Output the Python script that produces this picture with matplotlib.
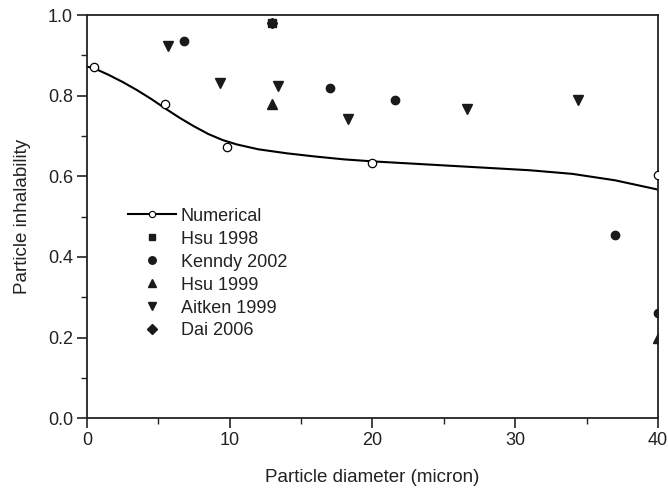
import matplotlib
matplotlib.use('Agg')
import matplotlib.pyplot as plt
from matplotlib.ticker import MultipleLocator, FormatStrFormatter

plt.rcParams['font.family'] = ['Liberation Sans', 'DejaVu Sans']

# Кривая численного расчета
curve_x = [0, 0.5, 1.5, 2.5, 3.5, 4.5, 5.5, 6.5, 7.5, 8.5, 9.5, 10.5, 12,
           14, 16, 18, 20, 22, 25, 28, 31, 34, 37, 40]
curve_y = [0.872, 0.868, 0.852, 0.834, 0.814, 0.792, 0.768, 0.745, 0.724,
           0.705, 0.690, 0.679, 0.667, 0.657, 0.649, 0.642, 0.637, 0.633,
           0.627, 0.621, 0.615, 0.606, 0.590, 0.567]

# Точки численного расчета
num_x = [0.5, 5.5, 9.8, 20.0, 40.0]
num_y = [0.87, 0.78, 0.672, 0.634, 0.603]

# Экспериментальные данные
hsu98_x = [13.0]
hsu98_y = [0.98]
kenndy_x = [6.8, 13.0, 17.0, 21.6, 37.0, 40.0]
kenndy_y = [0.936, 0.98, 0.818, 0.789, 0.455, 0.26]
hsu99_x = [13.0, 40.0]
hsu99_y = [0.78, 0.2]
aitken_x = [5.7, 9.3, 13.4, 18.3, 26.6, 34.4]
aitken_y = [0.922, 0.832, 0.823, 0.742, 0.767, 0.79]
dai_x = [13.0]
dai_y = [0.98]

fig = plt.figure(figsize=(6.68, 4.92), dpi=100)
ax = fig.add_axes([0.13, 0.15, 0.855, 0.8195])

ax.plot(curve_x, curve_y, color='black', lw=1.5, zorder=2)
ax.plot(num_x, num_y, 'o', mfc='white', mec='black', ms=6, mew=0.9, zorder=3)
# для легенды - маркер поменьше
ax.plot([], [], '-o', color='black', mfc='white', mec='black', ms=5, mew=0.8,
        lw=1.5, label='Numerical')

ax.plot(hsu98_x, hsu98_y, 's', color='#1a1a1a', ms=5.5, ls='none', label='Hsu 1998')
ax.plot(kenndy_x, kenndy_y, 'o', color='#1a1a1a', ms=6, ls='none', label='Kenndy 2002')
ax.plot(hsu99_x, hsu99_y, '^', color='#1a1a1a', ms=7, ls='none', label='Hsu 1999')
ax.plot(aitken_x, aitken_y, 'v', color='#1a1a1a', ms=7, ls='none', label='Aitken 1999')
ax.plot(dai_x, dai_y, 'D', color='#1a1a1a', ms=5.5, ls='none', label='Dai 2006')

ax.set_xlim(0, 40)
ax.set_ylim(0, 1.0)
ax.xaxis.set_major_locator(MultipleLocator(10))
ax.xaxis.set_minor_locator(MultipleLocator(5))
ax.yaxis.set_major_locator(MultipleLocator(0.2))
ax.yaxis.set_minor_locator(MultipleLocator(0.1))
ax.yaxis.set_major_formatter(FormatStrFormatter('%.1f'))

ax.tick_params(which='major', direction='out', length=7, width=1.2,
               labelsize=13, color='#222222', labelcolor='#222222', pad=3)
ax.tick_params(which='minor', direction='out', length=4, width=1.0, color='#222222')
for s in ax.spines.values():
    s.set_linewidth(1.3)
    s.set_color('#222222')

ax.set_xlabel('Particle diameter (micron)', fontsize=13.5, labelpad=14, color='#222222')
ax.set_ylabel('Particle inhalability', fontsize=13.5, labelpad=12, color='#222222')

ax.legend(loc='upper left', bbox_to_anchor=(0.059, 0.54), frameon=False, fontsize=13,
          handlelength=2.66, handletextpad=0.28, labelspacing=0.33, borderaxespad=0,
          markerscale=0.9, labelcolor='#222222')

fig.savefig('out.png', dpi=100)
